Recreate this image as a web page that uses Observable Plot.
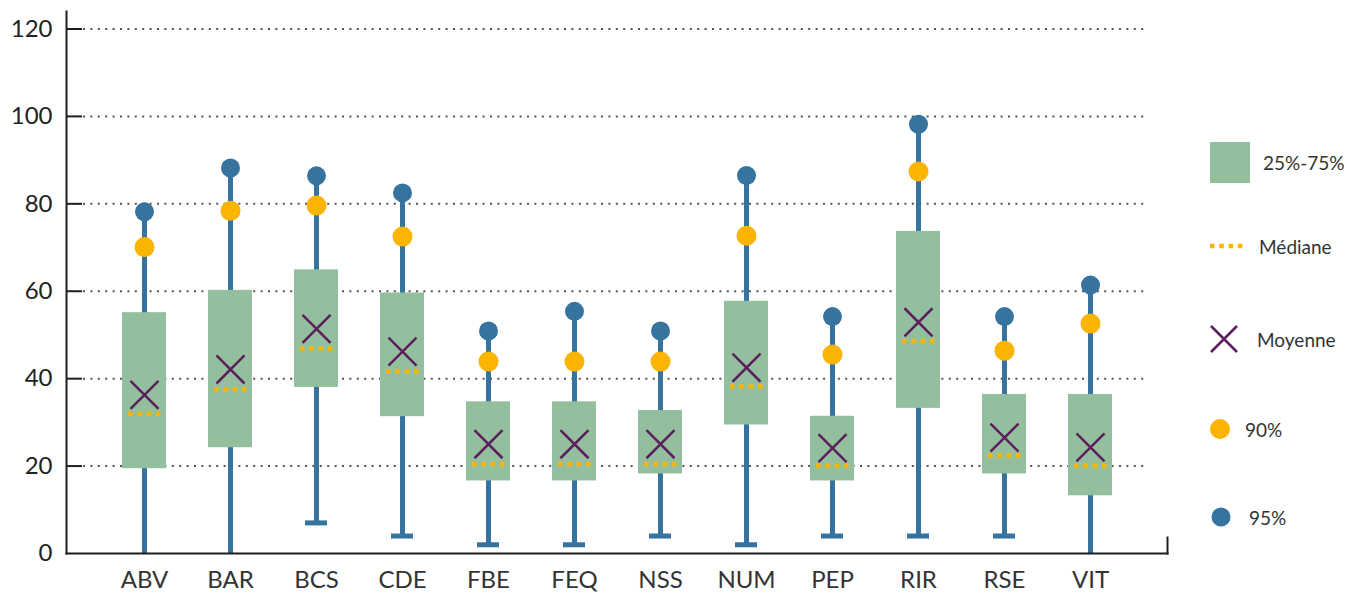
<!DOCTYPE html>
<html>
<head>
<meta charset="utf-8">
<script src="https://cdn.jsdelivr.net/npm/d3@7"></script>
<script src="https://cdn.jsdelivr.net/npm/@observablehq/plot@0.6"></script>
<style>
  body { margin: 0; background: #fff; font-family: Lato, "Open Sans", sans-serif; }
  #wrap { position: relative; width: 1346px; height: 593px; overflow: hidden; }
  .lg { position: absolute; display: flex; align-items: center; color: #333; font-size: 19px; }
  .lg svg { display: block; }
</style>
</head>
<body>
<div id="wrap"></div>
<script>
// Distribution per category
const categories = ["ABV", "BAR", "BCS", "CDE", "FBE", "FEQ", "NSS", "NUM", "PEP", "RIR", "RSE", "VIT"];
const low    = [0, 0, 7, 4, 2, 2, 4, 2, 4, 4, 4, 0];
const q1     = [19.4, 24.2, 38.0, 31.3, 16.6, 16.6, 18.2, 29.4, 16.6, 33.2, 18.2, 13.2];
const median = [32.0, 37.6, 46.9, 41.7, 20.5, 20.5, 20.5, 38.2, 20.1, 48.6, 22.4, 20.1];
const mean   = [36.3, 42.1, 51.4, 46.2, 25.0, 25.0, 25.0, 42.5, 24.1, 52.9, 26.5, 24.3];
const q3     = [55.1, 60.2, 64.9, 59.6, 34.7, 34.7, 32.7, 57.7, 31.4, 73.7, 36.4, 36.4];
const p90    = [70.1, 78.4, 79.6, 72.5, 43.9, 43.9, 43.9, 72.7, 45.5, 87.4, 46.4, 52.6];
const p95    = [78.2, 88.2, 86.4, 82.5, 50.9, 55.4, 50.9, 86.5, 54.2, 98.2, 54.2, 61.4];
const yTicks = [0, 20, 40, 60, 80, 100, 120];

const BLUE = "#37739f", GREEN = "#93bf9f", ORANGE = "#fbb400", PURPLE = "#5b1f5c", INK = "#1e1e1e";

const rows = categories.map((cat, i) => ({
  cat, low: low[i], q1: q1[i], median: median[i], mean: mean[i], q3: q3[i], p90: p90[i], p95: p95[i]
}));
const gridTicks = yTicks.filter(v => v > 0);

const chart = Plot.plot({
  width: 1346,
  height: 593,
  marginLeft: 66,
  marginRight: 179,
  marginTop: 11,
  marginBottom: 40,
  style: { fontFamily: "Lato, 'Open Sans', sans-serif", color: "#333", background: "#fff" },
  x: { type: "band", domain: categories, paddingInner: 0.49, paddingOuter: 0.612, label: null },
  y: { domain: [0, 124], label: null },
  marks: [
    // dotted gridlines and short inner ticks
    Plot.ruleY(gridTicks, { stroke: "#555", strokeWidth: 2, strokeDasharray: "2,5.4", insetLeft: 17, insetRight: 21 }),
    Plot.ruleY(gridTicks, { stroke: INK, strokeWidth: 2, insetRight: 1085 }),
    // whiskers
    Plot.ruleX(rows, { x: "cat", y1: "low", y2: "p95", stroke: BLUE, strokeWidth: 5 }),
    // interquartile boxes
    Plot.barY(rows, { x: "cat", y1: "q1", y2: "q3", fill: GREEN }),
    // lower whisker caps
    Plot.tickY(rows.filter(d => d.low > 0), { x: "cat", y: "low", stroke: BLUE, strokeWidth: 5, inset: 11 }),
    // median
    Plot.tickY(rows, { x: "cat", y: "median", stroke: ORANGE, strokeWidth: 4.5, strokeDasharray: "4.5,4.8", insetLeft: 6, insetRight: 5 }),
    // mean
    Plot.dot(rows, { x: "cat", y: "mean", symbol: "times", r: 12.8, stroke: PURPLE, strokeWidth: 2.5 }),
    // 90th and 95th percentiles
    Plot.dot(rows, { x: "cat", y: "p90", r: 10, fill: ORANGE }),
    Plot.dot(rows, { x: "cat", y: "p95", r: 9.5, fill: BLUE }),
    // axes
    Plot.axisY({ ticks: yTicks, tickSize: 0, tickPadding: 14, fontSize: 24, fill: "#222", label: null }),
    Plot.axisX({ tickSize: 0, tickPadding: 17, fontSize: 24, fill: "#333", label: null }),
    Plot.frame({ anchor: "left", stroke: INK, strokeWidth: 2 }),
    Plot.frame({ anchor: "bottom", stroke: INK, strokeWidth: 2 }),
    Plot.frame({ anchor: "right", stroke: INK, strokeWidth: 2, insetTop: 526 })
  ]
});

const wrap = document.getElementById("wrap");
wrap.appendChild(chart);

// legend
const legendItems = [
  { label: "25%-75%", top: 142, h: 41, gap: 13,
    svg: `<svg width="40" height="41"><rect width="40" height="41" fill="${GREEN}"/></svg>` },
  { label: "Médiane", top: 236, h: 20, gap: 16,
    svg: `<svg width="33" height="20"><line x1="0" x2="33" y1="10" y2="10" stroke="${ORANGE}" stroke-width="4.5" stroke-dasharray="4.5,4.8"/></svg>` },
  { label: "Moyenne", top: 324, h: 30, gap: 19,
    svg: `<svg width="28" height="30"><path d="M1,2L27,28M1,28L27,2" stroke="${PURPLE}" stroke-width="2.5" fill="none"/></svg>` },
  { label: "90%", top: 418, h: 22, gap: 14,
    svg: `<svg width="22" height="22" style="margin-left:-1px"><circle cx="11" cy="11" r="10" fill="${ORANGE}"/></svg>` },
  { label: "95%", top: 507, h: 20, gap: 18,
    svg: `<svg width="20" height="20" style="margin-left:1px"><circle cx="10" cy="10" r="9.5" fill="${BLUE}"/></svg>` }
];
for (const it of legendItems) {
  const div = document.createElement("div");
  div.className = "lg";
  div.style.left = "1210px";
  div.style.top = it.top + "px";
  div.style.height = it.h + "px";
  div.innerHTML = it.svg + `<span style="margin-left:${it.gap}px">${it.label}</span>`;
  wrap.appendChild(div);
}
</script>
</body>
</html>
